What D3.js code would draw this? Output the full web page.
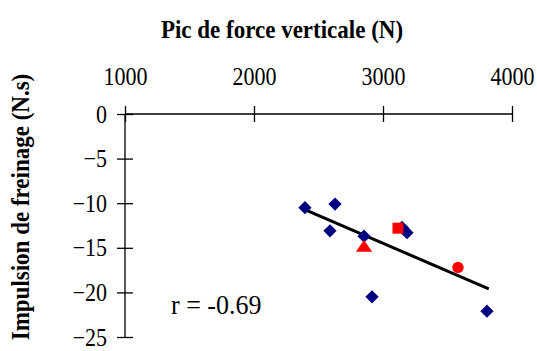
<!DOCTYPE html>
<html><head><meta charset="utf-8">
<script src="https://cdn.jsdelivr.net/npm/d3@7"></script>
<style>body{margin:0;background:#fff}svg{display:block}text{font-family:"Liberation Serif","Times New Roman",serif;fill:#000}</style>
</head><body><div id="chart"></div>
<script>
const xTicks = [1000, 2000, 3000, 4000];
const yTicks = [0, -5, -10, -15, -20, -25];
const diamondX = [2395, 2628, 2589, 2853, 3147, 3186, 2915, 3806];
const diamondY = [-10.5, -10.1, -13.1, -13.7, -12.7, -13.3, -20.5, -22.1];
const squareX = [3116], squareY = [-12.8];
const triangleX = [2853], triangleY = [-15.0];
const circleX = [3581], circleY = [-17.2];
const trendX = [2390, 3820], trendY = [-10.7, -19.6];
const rLabel = "r = -0.69";

const W = 537, H = 351, SY = 1.13;
const svg = d3.select("#chart").append("svg").attr("width", W).attr("height", H);
const x = d3.scaleLinear().domain([1000, 4000]).range([125, 512]);
const y = d3.scaleLinear().domain([-25, 0]).range([337, 114]);

// axes
const xAxis = svg.append("g").attr("transform", `translate(0,${y(0)})`)
  .call(d3.axisTop(x).tickValues(xTicks).tickSize(8).tickFormat(d3.format("d")));
xAxis.select(".domain").attr("d", `M${x(1000)},0H${x(4000)}`);
xAxis.selectAll(".tick line").attr("y1", 8).attr("y2", -8);
xAxis.selectAll(".tick text")
  .attr("y", null).attr("dy", null)
  .attr("transform", `translate(0,-29) scale(1,${SY})`)
  .attr("font-size", 22).style("font-family", "Liberation Serif");

const yAxis = svg.append("g").attr("transform", `translate(${x(1000)},0)`)
  .call(d3.axisLeft(y).tickValues(yTicks).tickSize(8));
yAxis.select(".domain").attr("d", `M0,${y(0)}V${y(-25)}`);
yAxis.selectAll(".tick line").attr("x1", -8).attr("x2", 8);
yAxis.selectAll(".tick text")
  .attr("x", null).attr("dy", null)
  .attr("transform", `translate(-18,8) scale(1,${SY})`)
  .attr("font-size", 22).style("font-family", "Liberation Serif");
svg.selectAll(".domain, .tick line").attr("stroke", "#000").attr("stroke-width", 1.3);

// titles
svg.append("text").attr("transform", `translate(282,38) scale(1,${SY})`).attr("text-anchor", "middle")
  .attr("font-size", 23).attr("font-weight", "bold").text("Pic de force verticale (N)");
svg.append("text").attr("transform", `translate(29,207) rotate(-90) scale(1,${SY})`).attr("text-anchor", "middle")
  .attr("font-size", 23).attr("font-weight", "bold").text("Impulsion de freinage (N.s)");

// trend line
svg.append("line").attr("x1", x(trendX[0])).attr("y1", y(trendY[0]))
  .attr("x2", x(trendX[1])).attr("y2", y(trendY[1])).attr("stroke", "#000").attr("stroke-width", 3);

// diamonds
svg.selectAll(".dia").data(diamondX.map((d, i) => [d, diamondY[i]])).join("path")
  .attr("d", d3.symbol(d3.symbolSquare, 88)())
  .attr("transform", d => `translate(${x(d[0])},${y(d[1])}) rotate(45)`)
  .attr("fill", "#000080");
svg.selectAll(".sq").data(squareX.map((d, i) => [d, squareY[i]])).join("rect")
  .attr("x", d => x(d[0]) - 5.5).attr("y", d => y(d[1]) - 5.5).attr("width", 11).attr("height", 11).attr("fill", "#ff0000");
svg.selectAll(".tri").data(triangleX.map((d, i) => [d, triangleY[i]])).join("path")
  .attr("d", d3.symbol(d3.symbolTriangle, 80)())
  .attr("transform", d => `translate(${x(d[0])},${y(d[1])}) scale(1.2,1)`).attr("fill", "#ff0000");
svg.selectAll(".cir").data(circleX.map((d, i) => [d, circleY[i]])).join("circle")
  .attr("cx", d => x(d[0])).attr("cy", d => y(d[1])).attr("r", 5.7).attr("fill", "#ff0000");

svg.append("text").attr("transform", `translate(171,314) scale(1,1.05)`).attr("font-size", 26).text(rLabel);
</script></body></html>
